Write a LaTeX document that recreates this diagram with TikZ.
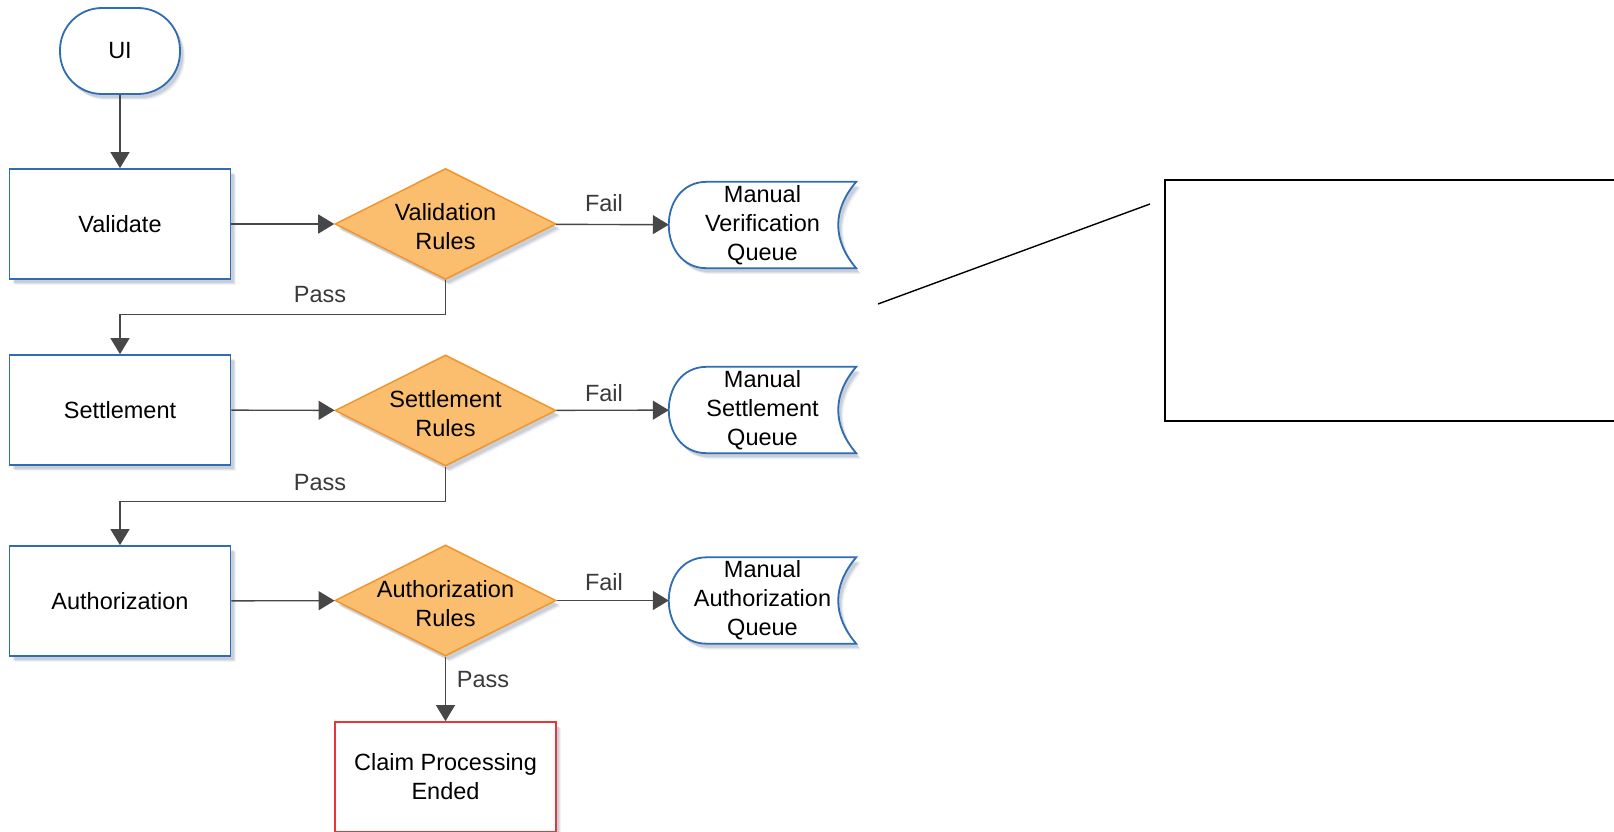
\documentclass[tikz,border=0pt]{standalone}
\usepackage{fontspec}
\setmainfont{Liberation Sans}
\usetikzlibrary{shapes.geometric,arrows.meta,shadows,calc}
\definecolor{boxblue}{HTML}{2F6CB3}
\definecolor{dfill}{HTML}{FBBE6E}
\definecolor{dline}{HTML}{F2952A}
\definecolor{lin}{HTML}{474747}
\definecolor{endred}{HTML}{E8353B}
\definecolor{shad}{HTML}{5A6E8C}
\definecolor{lbltext}{HTML}{3A3A3A}
\pgfdeclarelayer{background}
\pgfdeclarelayer{canvas}
\pgfsetlayers{canvas,background,main}
\newcommand\qshape[1]{%
  \draw[qline] ($(#1.north west)+(38,0)$) -- (#1.north east)
    .. controls ($(#1.north east)+(-24,28)$) and ($(#1.south east)+(-24,-28)$) .. (#1.south east)
    -- ($(#1.south west)+(38,0)$)
    .. controls ($(#1.south west)+(-12.7,0)$) and ($(#1.north west)+(-12.7,0)$) .. cycle;}
\begin{document}
\begin{tikzpicture}[x=1pt,y=-1pt,
  every node/.style={font=\fontsize{23.5}{29}\selectfont},
  shdw/.style={
    drop shadow={shadow xshift=5pt,shadow yshift=-6pt,fill=shad,opacity=.08},
    drop shadow={shadow xshift=4pt,shadow yshift=-5pt,fill=shad,opacity=.12},
    drop shadow={shadow xshift=3pt,shadow yshift=-4pt,fill=shad,opacity=.16}},
  proc/.style={rectangle,draw=boxblue,line width=1.8pt,fill=white,minimum width=221pt,minimum height=110pt,inner sep=0pt,align=center,shdw},
  term/.style={rectangle,rounded corners=42pt,draw=boxblue,line width=1.8pt,fill=white,minimum width=120pt,minimum height=86pt,inner sep=0pt,shdw},
  decis/.style={diamond,draw=dline,fill=dfill,line width=1.5pt,minimum width=221pt,minimum height=111pt,inner sep=0pt,shdw},
  queue/.style={rectangle,minimum width=187pt,minimum height=86pt,inner sep=0pt,align=center},
  qline/.style={draw=boxblue,line width=1.8pt,fill=white,shdw},
  endbox/.style={rectangle,draw=endred,line width=1.8pt,fill=white,minimum width=221pt,minimum height=110pt,inner sep=0pt,align=center,shdw},
  arr/.style={draw=lin,line width=1.4pt,-{Triangle[length=16pt,width=19pt]}},
  lbl/.style={text=lbltext},
  dlbl/.style={align=center,yshift=-3pt},
  notebox/.style={rectangle,draw=black,line width=1.6pt,minimum width=500pt,minimum height=241pt,inner sep=0pt,anchor=north west}
]
\begin{pgfonlayer}{canvas}
\fill[white] (0,0) rectangle (1614,832);
\end{pgfonlayer}
\useasboundingbox (0,0) rectangle (1614,832);

\node[term] (ui) at (120,51) {UI};
\node[proc] (val) at (120,224) {Validate};
\node[proc] (set) at (120,410) {Settlement};
\node[proc] (auth) at (120,601) {Authorization};

\node[decis,label={[dlbl]center:Validation\\Rules}] (vr) at (445.5,224) {};
\node[decis,label={[dlbl]center:Settlement\\Rules}] (sr) at (445.5,410.5) {};
\node[decis,label={[dlbl]center:Authorization\\Rules}] (ar) at (445.5,600.5) {};

\node[queue] (q1) at (762.5,225) {Manual\\Verification\\Queue};
\node[queue] (q2) at (762.5,410) {Manual\\Settlement\\Queue};
\node[queue] (q3) at (762.5,600.5) {Manual\\Authorization\\Queue};
\begin{pgfonlayer}{background}
\qshape{q1}
\qshape{q2}
\qshape{q3}
\end{pgfonlayer}

\node[endbox] (end) at (445.5,777) {Claim Processing\\Ended};

\draw[arr] (ui) -- (val);
\draw[arr] (val) -- (vr);
\draw[arr] (set) -- (sr);
\draw[arr] (auth) -- (ar);
\draw[arr] (vr) -- (q1);
\draw[arr] (sr) -- (q2);
\draw[arr] (ar) -- (q3);
\draw[arr] (vr.south) -- ++(0,34) -| (set.north);
\draw[arr] (sr.south) -- ++(0,35) -| (auth.north);
\draw[arr] (ar.south) -- (end.north);

\node[lbl] (f1) at (604,203) {Fail};
\node[lbl] (f2) at (604,393) {Fail};
\node[lbl] (f3) at (604,582) {Fail};
\node[lbl] (p1) at (320,295) {Pass};
\node[lbl] (p2) at (320,483) {Pass};
\node[lbl] (p3) at (483,680) {Pass};

\node[notebox] (note) at (1164,179) {};
\coordinate (ls) at (878,304);
\coordinate (le) at (1150,204);
\draw[line width=1.4pt] (ls) -- (le);
\end{tikzpicture}
\end{document}
